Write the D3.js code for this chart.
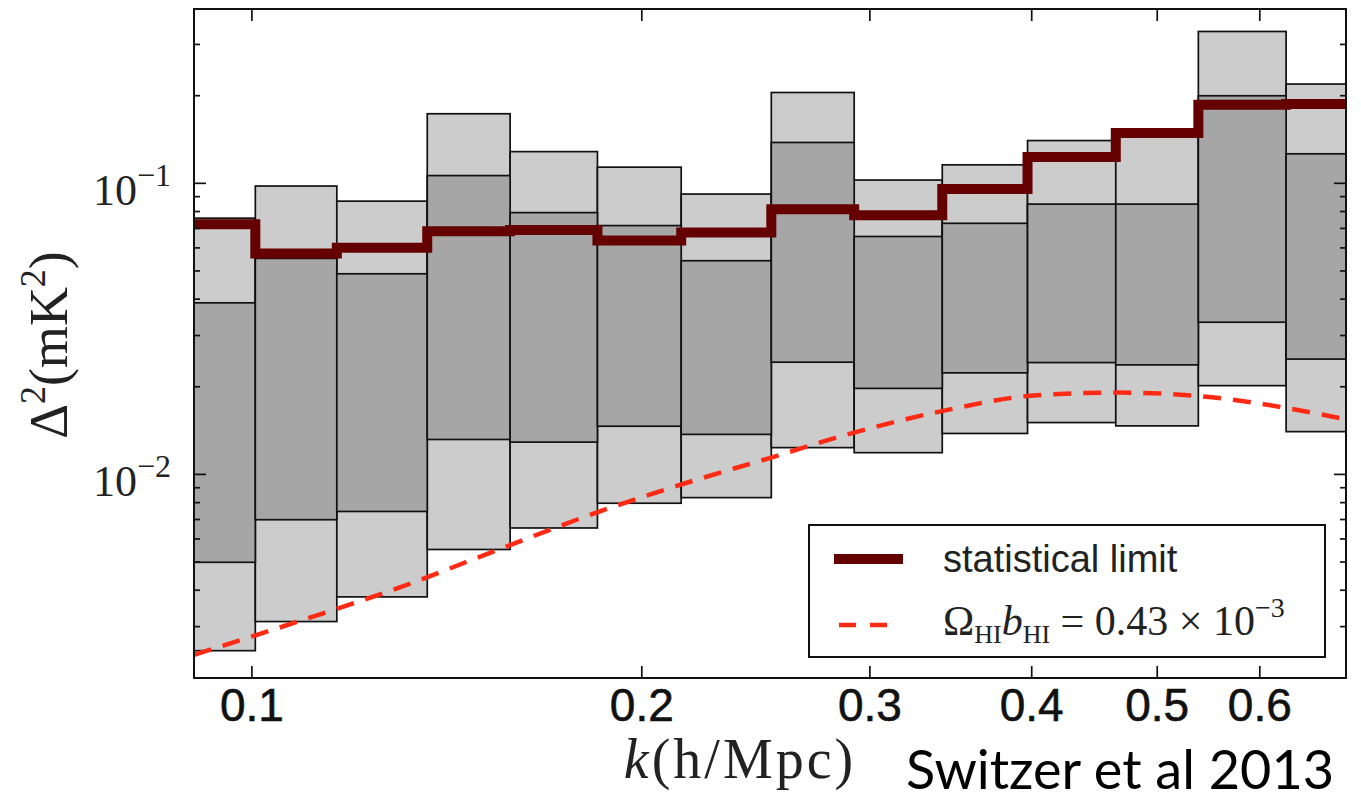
<!doctype html>
<html>
<head>
<meta charset="utf-8">
<title>Switzer et al 2013</title>
<script src="https://cdn.jsdelivr.net/npm/d3@7/dist/d3.min.js"></script>
<style>
  body { margin: 0; background: #fff; }
</style>
</head>
<body>
<script>

// DATA
// k bin edges (h/Mpc)
var binEdges = [0.0865, 0.1007, 0.1164, 0.1367, 0.1584, 0.1850, 0.2147, 0.2520,
                0.2920, 0.3415, 0.3974, 0.4649, 0.5384, 0.6293, 0.733];

// outer (light grey) band, mK^2
var outerHi = [0.0756, 0.0975, 0.0865, 0.1727, 0.1280, 0.1132, 0.0915,
               0.2043, 0.1022, 0.1153, 0.1397, 0.1503, 0.3311, 0.2184];
var outerLo = [0.00247, 0.00311, 0.00378, 0.00550, 0.00652, 0.00793, 0.00829,
               0.01231, 0.01183, 0.01377, 0.01501, 0.01462, 0.0201, 0.01397];

// inner (dark grey) band
var innerHi = [0.0387, 0.0550, 0.0487, 0.1059, 0.0790, 0.0713, 0.0540,
               0.1376, 0.0654, 0.0726, 0.0845, 0.0845, 0.1991, 0.1258];
var innerLo = [0.00497, 0.00696, 0.00743, 0.01313, 0.01286, 0.01458, 0.01367,
               0.0242, 0.01967, 0.02224, 0.02413, 0.02369, 0.0332, 0.0248];

// statistical limit per bin
var statLimit = [0.0720, 0.0572, 0.0598, 0.0682, 0.0688, 0.0634, 0.0675,
                 0.0812, 0.0773, 0.0952, 0.1226, 0.1482, 0.1853, 0.1864];

// theory curve Omega_HI b_HI = 0.43e-3
var theoryK = [0.0903, 0.1091, 0.1297, 0.1565, 0.1849, 0.2156, 0.2516, 0.2915,
               0.3434, 0.3993, 0.4660, 0.5372, 0.5935, 0.6303, 0.700];
var theoryP = [0.00239, 0.00313, 0.00405, 0.00558, 0.00738, 0.00925, 0.01136, 0.01384,
               0.01653, 0.01854, 0.01903, 0.01854, 0.01758, 0.01683, 0.01539];

var xTicks = [0.1, 0.2, 0.3, 0.4, 0.5, 0.6];
var yMajor = [0.01, 0.1];
var yMajorExp = ["\u22122", "\u22121"];
var yMinor = [0.003, 0.004, 0.005, 0.006, 0.007, 0.008, 0.009,
              0.02, 0.03, 0.04, 0.05, 0.06, 0.07, 0.08, 0.09, 0.2, 0.3];


var W = 1361, H = 803;
var pLeft = 194, pRight = 1346, pTop = 9, pBottom = 678;

var svg = d3.select("body").append("svg")
    .attr("width", W).attr("height", H)
    .style("display", "block");

var x = d3.scaleLog().domain([0.0903, 0.700]).range([pLeft, pRight]);
var y = d3.scaleLog().domain([0.00199, 0.3955]).range([pBottom, pTop]);

svg.append("clipPath").attr("id", "plotclip")
  .append("rect")
    .attr("x", pLeft).attr("y", pTop)
    .attr("width", pRight - pLeft).attr("height", pBottom - pTop);

var plot = svg.append("g").attr("clip-path", "url(#plotclip)");

var bins = d3.range(statLimit.length).map(function(i) {
  return { k0: binEdges[i], k1: binEdges[i + 1],
           oh: outerHi[i], ol: outerLo[i], ih: innerHi[i], il: innerLo[i],
           s: statLimit[i] };
});

// light grey outer boxes
plot.selectAll("rect.outer")
  .data(bins).enter().append("rect")
    .attr("class", "outer")
    .attr("x", function(d) { return x(d.k0); })
    .attr("width", function(d) { return x(d.k1) - x(d.k0); })
    .attr("y", function(d) { return y(d.oh); })
    .attr("height", function(d) { return y(d.ol) - y(d.oh); })
    .attr("fill", "#cccccc")
    .attr("stroke", "#111")
    .attr("stroke-width", 1.7);

// dark grey inner boxes
plot.selectAll("rect.inner")
  .data(bins).enter().append("rect")
    .attr("class", "inner")
    .attr("x", function(d) { return x(d.k0); })
    .attr("width", function(d) { return x(d.k1) - x(d.k0); })
    .attr("y", function(d) { return y(d.ih); })
    .attr("height", function(d) { return y(d.il) - y(d.ih); })
    .attr("fill", "#a6a6a6")
    .attr("stroke", "#111")
    .attr("stroke-width", 1.7);

// theory dashed curve
var theory = theoryK.map(function(k, i) { return [k, theoryP[i]]; });
plot.append("path")
    .datum(theory)
    .attr("d", d3.line()
      .x(function(d) { return x(d[0]); })
      .y(function(d) { return y(d[1]); })
      .curve(d3.curveMonotoneX))
    .attr("fill", "none")
    .attr("stroke", "#ff2a14")
    .attr("stroke-width", 4.5)
    .attr("stroke-dasharray", "18,12");

// statistical limit step line
var steps = bins.map(function(d) { return [d.k0, d.s]; });
steps.push([binEdges[binEdges.length - 1], statLimit[statLimit.length - 1]]);
plot.append("path")
    .datum(steps)
    .attr("d", d3.line()
      .x(function(d) { return x(d[0]); })
      .y(function(d) { return y(d[1]); })
      .curve(d3.curveStepAfter))
    .attr("fill", "none")
    .attr("stroke", "#640000")
    .attr("stroke-width", 10)
    .attr("stroke-linejoin", "miter");

// AXES
var xAxisB = d3.axisBottom(x).tickValues(xTicks).tickSizeInner(-12).tickSizeOuter(0)
    .tickPadding(10).tickFormat(d3.format(".1f"));
var gxb = svg.append("g").attr("transform", "translate(0," + pBottom + ")").call(xAxisB);
gxb.select(".domain").remove();
gxb.selectAll("line").attr("stroke", "#111").attr("stroke-width", 1.7);
gxb.selectAll("text")
    .attr("font-family", "'Liberation Sans', Arial, sans-serif")
    .attr("font-size", 46).attr("fill", "#111")
    .attr("stroke", "#111").attr("stroke-width", 0.6);

var xAxisT = d3.axisTop(x).tickValues(xTicks).tickSizeInner(-12).tickSizeOuter(0).tickFormat("");
var gxt = svg.append("g").attr("transform", "translate(0," + pTop + ")").call(xAxisT);
gxt.select(".domain").remove();
gxt.selectAll("line").attr("stroke", "#111").attr("stroke-width", 1.7);

function yTicks(axisFn, pos, vals, size) {
  var g = svg.append("g").attr("transform", "translate(" + pos + ",0)")
    .call(axisFn(y).tickValues(vals).tickSizeInner(-size).tickSizeOuter(0).tickFormat(""));
  g.select(".domain").remove();
  g.selectAll("line").attr("stroke", "#111").attr("stroke-width", 1.7);
}
yTicks(d3.axisLeft, pLeft, yMajor, 12);
yTicks(d3.axisLeft, pLeft, yMinor, 6);
yTicks(d3.axisRight, pRight, yMajor, 12);
yTicks(d3.axisRight, pRight, yMinor, 6);

// y tick labels 10^n
var ylab = svg.selectAll("text.ylab")
  .data(yMajor).enter().append("text")
    .attr("class", "ylab")
    .attr("font-family", "'Liberation Serif', 'Times New Roman', serif")
    .attr("fill", "#222")
    .attr("x", 93)
    .attr("y", function(d) { return y(d) + 22; });
ylab.append("tspan").attr("font-size", 44).text("10");
ylab.append("tspan").attr("font-size", 32).attr("dy", -19)
    .text(function(d, i) { return yMajorExp[i]; });

// frame
svg.append("rect")
    .attr("x", pLeft).attr("y", pTop)
    .attr("width", pRight - pLeft).attr("height", pBottom - pTop)
    .attr("fill", "none").attr("stroke", "#111").attr("stroke-width", 2);

// axis titles
var xt = svg.append("text")
    .attr("x", 740).attr("y", 778)
    .attr("text-anchor", "middle")
    .attr("font-family", "'Liberation Serif', 'Times New Roman', serif")
    .attr("font-size", 56).attr("fill", "#222")
    .attr("letter-spacing", 3);
xt.append("tspan").attr("font-style", "italic").text("k");
xt.append("tspan").text("(h/Mpc)");

var yt = svg.append("text")
    .attr("transform", "translate(67,345) rotate(-90)")
    .attr("text-anchor", "middle")
    .attr("font-family", "'Liberation Serif', 'Times New Roman', serif")
    .attr("font-size", 54).attr("fill", "#222");
yt.append("tspan").text("\u0394");
yt.append("tspan").attr("font-size", 36).attr("dy", -22).text("2");
yt.append("tspan").attr("dy", 22).text("(mK");
yt.append("tspan").attr("font-size", 36).attr("dy", -22).text("2");
yt.append("tspan").attr("dy", 22).text(")");

// LEGEND
var lg = svg.append("g");
lg.append("rect")
    .attr("x", 809).attr("y", 525).attr("width", 516).attr("height", 132)
    .attr("fill", "#fff").attr("stroke", "#111").attr("stroke-width", 2);
lg.append("line")
    .attr("x1", 834).attr("x2", 903).attr("y1", 559).attr("y2", 559)
    .attr("stroke", "#640000").attr("stroke-width", 10);
lg.append("text")
    .attr("x", 943).attr("y", 572)
    .attr("font-family", "'Liberation Sans', Arial, sans-serif")
    .attr("font-size", 38).attr("fill", "#222")
    .text("statistical limit");
lg.append("line")
    .attr("x1", 839).attr("x2", 887).attr("y1", 625).attr("y2", 625)
    .attr("stroke", "#ff2a14").attr("stroke-width", 4.5)
    .attr("stroke-dasharray", "17,14");
var lt = lg.append("text")
    .attr("x", 943).attr("y", 635)
    .attr("font-family", "'Liberation Serif', 'Times New Roman', serif")
    .attr("font-size", 42).attr("fill", "#222");
lt.append("tspan").text("\u03A9");
lt.append("tspan").attr("font-size", 26).attr("dy", 8).text("HI");
lt.append("tspan").attr("font-style", "italic").attr("dy", -8).text("b");
lt.append("tspan").attr("font-size", 26).attr("dy", 8).text("HI");
lt.append("tspan").attr("dy", -8).text(" = 0.43 \u00D7 10");
lt.append("tspan").attr("font-size", 28).attr("dy", -18).text("\u22123");

// credit
svg.append("text")
    .attr("x", 906).attr("y", 789)
    .attr("font-family", "Lato, 'Open Sans', sans-serif")
    .attr("font-size", 54).attr("fill", "#000")
    .text("Switzer et al 2013");

</script>
</body>
</html>
